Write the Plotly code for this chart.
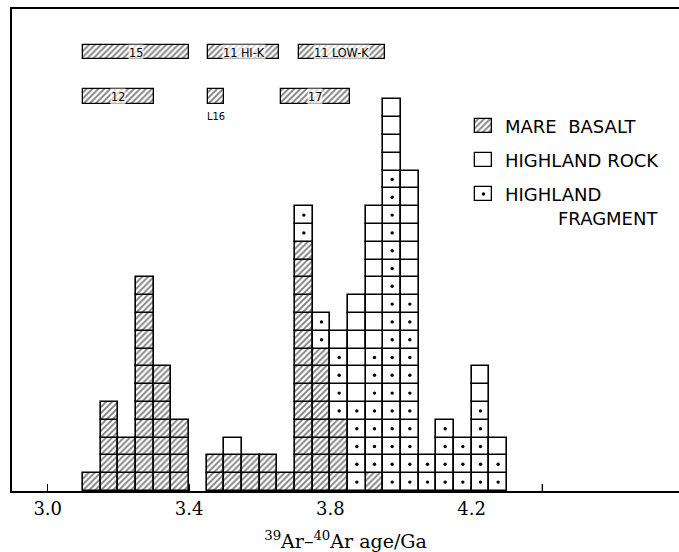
import plotly.graph_objects as go

# ---------------- data ----------------
bin_width = 0.05
bin_left = [3.10, 3.15, 3.20, 3.25, 3.30, 3.35, 3.40, 3.45, 3.50, 3.55, 3.60, 3.65,
            3.70, 3.75, 3.80, 3.85, 3.90, 3.95, 4.00, 4.05, 4.10, 4.15, 4.20, 4.25]
mare_basalt = [1, 5, 3, 12, 7, 4, 0, 2, 2, 2, 2, 1, 14, 8, 4, 0, 1, 0, 0, 0, 0, 0, 0, 0]
highland_fragment = [0, 0, 0, 0, 0, 0, 0, 0, 0, 0, 0, 0, 2, 2, 4, 5, 7, 18, 11, 2, 4, 3, 5, 2]
highland_rock = [0, 0, 0, 0, 0, 0, 0, 0, 1, 0, 0, 0, 0, 0, 1, 6, 8, 4, 7, 0, 0, 0, 2, 1]

# mission age ranges (Ga)
mission_labels = ["15", "11 HI-K", "11 LOW-K", "12", "", "17"]
mission_start = [3.10, 3.455, 3.71, 3.10, 3.455, 3.66]
mission_end = [3.40, 3.655, 3.955, 3.30, 3.50, 3.855]
mission_row = [1, 1, 1, 2, 2, 2]
small_label = "L16"

tick_values = [3.0, 3.4, 3.8, 4.2]
tick_labels = ["3.0", "3.4", "3.8", "4.2"]
minor_tick_values = [3.2, 3.6, 4.0, 4.4]

legend_names = ["MARE  BASALT", "HIGHLAND ROCK", "HIGHLAND"]
legend_extra = "FRAGMENT"

# ---------------- layout constants (pixel based) ----------------
W, H = 679, 552
X0PX, PX_PER_GA = 47.7, 353.3
YBASE, PX_PER_UNIT = 491.0, 17.8
L_M, T_M = 12, 9
TICK_LEN_PX = 7


def xpx(p):
    return 3.0 + (p - X0PX) / PX_PER_GA


def ypx(p):
    return (YBASE - p) / PX_PER_UNIT


LINE = dict(color="black", width=1.6)
HATCH = dict(shape="/", fgcolor="black", bgcolor="white", size=4.2, solidity=0.45)

fig = go.Figure()


def stacked_units(counts, offsets):
    xs, bases = [], []
    for left, n, off in zip(bin_left, counts, offsets):
        for k in range(n):
            xs.append(round(left + bin_width / 2, 4))
            bases.append(off + k)
    return xs, bases


zeros = [0] * len(bin_left)
mare_x, mare_b = stacked_units(mare_basalt, zeros)
frag_x, frag_b = stacked_units(highland_fragment, mare_basalt)
rock_off = [m + f for m, f in zip(mare_basalt, highland_fragment)]
rock_x, rock_b = stacked_units(highland_rock, rock_off)

fig.add_trace(go.Bar(x=mare_x, y=[1] * len(mare_x), base=mare_b, width=bin_width,
                     marker=dict(color="white", line=LINE, pattern=HATCH),
                     name="Mare basalt", showlegend=False, hoverinfo="skip"))
fig.add_trace(go.Bar(x=frag_x, y=[1] * len(frag_x), base=frag_b, width=bin_width,
                     marker=dict(color="white", line=LINE),
                     name="Highland fragment", showlegend=False, hoverinfo="skip"))
fig.add_trace(go.Bar(x=rock_x, y=[1] * len(rock_x), base=rock_b, width=bin_width,
                     marker=dict(color="white", line=LINE),
                     name="Highland rock", showlegend=False, hoverinfo="skip"))
# dots in fragment squares
fig.add_trace(go.Scatter(x=frag_x, y=[b + 0.5 for b in frag_b], mode="markers",
                         marker=dict(color="black", size=3.4), showlegend=False,
                         hoverinfo="skip"))

# mission bars
row_y = {1: (ypx(59.3), ypx(45.0)), 2: (ypx(104.0), ypx(89.3))}
for lab, s, e, r in zip(mission_labels, mission_start, mission_end, mission_row):
    y0, y1 = row_y[r]
    fig.add_trace(go.Bar(y=[(y0 + y1) / 2], x=[e - s], base=[s], width=[y1 - y0],
                         orientation="h",
                         marker=dict(color="white", line=dict(color="black", width=1.3),
                                     pattern=HATCH),
                         showlegend=False, hoverinfo="skip"))
    if lab:
        fig.add_annotation(x=(s + e) / 2, y=(y0 + y1) / 2, text=lab, showarrow=False,
                           font=dict(family="DejaVu Sans Condensed, DejaVu Sans", size=12.5,
                                     color="black"),
                           bgcolor="rgba(255,255,255,0.7)", borderpad=0)
    else:
        fig.add_annotation(x=(s + e) / 2, y=ypx(116.5), text=small_label, showarrow=False,
                           font=dict(family="DejaVu Sans Condensed, DejaVu Sans", size=11,
                                     color="black"))

# legend (drawn in plot area)
leg_x0, leg_x1 = xpx(475), xpx(492)
leg_rows = [(119, 133), (153, 167), (187, 201)]
leg_pats = [HATCH, None, None]
for (p0, p1), pat in zip(leg_rows, leg_pats):
    mk = dict(color="white", line=dict(color="black", width=1.3))
    if pat:
        mk["pattern"] = pat
    fig.add_trace(go.Bar(x=[(leg_x0 + leg_x1) / 2], y=[ypx(p0) - ypx(p1)], base=[ypx(p1)],
                         width=[leg_x1 - leg_x0], marker=mk, showlegend=False,
                         hoverinfo="skip"))
fig.add_trace(go.Scatter(x=[(leg_x0 + leg_x1) / 2], y=[ypx((leg_rows[2][0] + leg_rows[2][1]) / 2)],
                         mode="markers", marker=dict(color="black", size=3.4),
                         showlegend=False, hoverinfo="skip"))
LEG_FONT = dict(family="DejaVu Sans", size=18, color="black")
for name, (p0, p1) in zip(legend_names, leg_rows):
    fig.add_annotation(x=xpx(503), y=ypx((p0 + p1) / 2), text=name, showarrow=False,
                       xanchor="left", yanchor="middle", font=LEG_FONT)
fig.add_annotation(x=xpx(556), y=ypx(218), text=legend_extra, showarrow=False,
                   xanchor="left", yanchor="middle", font=LEG_FONT)

# unlabeled intermediate ticks (drawn below the bars)
for v in minor_tick_values:
    fig.add_shape(type="line", xref="x", yref="y", x0=v, x1=v, y0=0,
                  y1=TICK_LEN_PX / PX_PER_UNIT, line=dict(color="black", width=1.3),
                  layer="below")

fig.update_layout(
    width=W, height=H,
    margin=dict(l=L_M, r=0, t=T_M, b=H - int(YBASE)),
    paper_bgcolor="white", plot_bgcolor="white",
    barmode="overlay", bargap=0,
    showlegend=False,
    xaxis=dict(range=[xpx(L_M), xpx(W)], tickvals=tick_values, ticktext=tick_labels,
               ticks="inside", ticklen=TICK_LEN_PX, tickwidth=1.3, tickcolor="black",
               showline=True, linecolor="black", linewidth=2, mirror=True,
               showgrid=False, zeroline=False, layer="below traces",
               tickfont=dict(family="DejaVu Serif", size=18, color="black"),
               title=dict(text="<sup>39</sup>Ar–<sup>40</sup>Ar age/Ga",
                          font=dict(family="DejaVu Serif", size=19, color="black"),
                          standoff=19)),
    yaxis=dict(range=[0, ypx(T_M)], showline=True, linecolor="black", linewidth=1.6,
               showticklabels=False, ticks="", showgrid=False, zeroline=False),
)

fig.write_html("out.html")
